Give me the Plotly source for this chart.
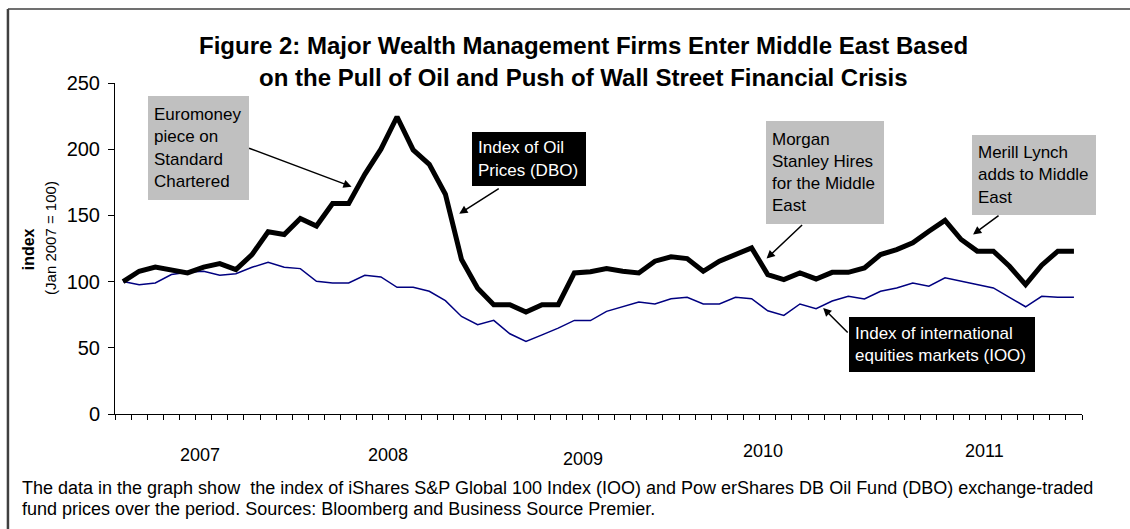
"""Figure 2 - oil index (DBO) vs international equities index (IOO), Jan 2007 = 100."""

import plotly.graph_objects as go

FONT = "Liberation Sans, Arial, sans-serif"

MONTHS = [f"{m} {y}" for y in range(2007, 2012) for m in
          ["Jan", "Feb", "Mar", "Apr", "May", "Jun", "Jul", "Aug", "Sep", "Oct", "Nov", "Dec"]]

OIL_DBO = [100, 107.8, 111, 108.6, 106.6, 111, 113.6, 109, 120.4, 137.6, 135.6, 147.7,
           142, 159, 159, 181, 200, 224.5, 199.5, 188.6, 166, 116.7, 95, 82.6,
           82.6, 77, 82.6, 82.6, 106.5, 107.5, 109.8, 107.8, 106.5, 115.4, 118.7, 117.4,
           107.8, 115.4, 120.4, 125.5, 105.3, 101.5, 106.5, 102, 107, 107, 110.3, 120.4,
           124.2, 129.3, 138, 146.2, 131.8, 123, 123, 111.6, 97.7, 112.4, 123, 123]

EQUITIES_IOO = [100, 97.7, 99, 105.3, 107, 107.8, 104.8, 106, 110.8, 114.6, 110.8, 109.8,
                100.2, 99, 99, 104.8, 103.5, 95.7, 95.7, 92.7, 85.6, 73.7, 67.4, 70.7,
                60.6, 54.8, 59.8, 64.9, 70.7, 70.6, 77.5, 81.3, 84.6, 83.1, 87.1, 88.1,
                83.1, 83.1, 88.1, 87.1, 78, 74.5, 83.1, 79.5, 85.3, 88.9, 86.9, 92.7,
                95.2, 99, 96.5, 102.8, 100.2, 97.7, 95.2, 88.1, 81, 88.9, 88.1, 88.1]

YEAR_LABELS = ["2007", "2008", "2009", "2010", "2011"]
Y_TICKS = [0, 50, 100, 150, 200, 250]

TITLE_LINES = [
    "Figure 2: Major Wealth Management Firms Enter Middle East Based",
    "on the Pull of Oil and Push of Wall Street Financial Crisis",
]
FOOTNOTE_LINES = [
    "The data in the graph show&nbsp; the index of iShares S&amp;P Global 100 Index (IOO) "
    "and Pow erShares DB Oil Fund (DBO) exchange-traded",
    "fund prices over the period. Sources: Bloomberg and Business Source Premier.",
]

# callouts: text, style, box left/top (x index, y value), box w/h px, arrow head (x, y), tail offset px
CALLOUTS = [
    ("Euromoney<br>piece on<br>Standard<br>Chartered", "grey", (1.55, 240.2), (101, 104), (14.18, 171.7), (-104, -39)),
    ("Index of Oil<br>Prices (DBO)", "black", (21.67, 212.7), (114, 54), (20.86, 151.3), (41, -26)),
    ("Morgan<br>Stanley Hires<br>for the Middle<br>East", "grey", (39.87, 221.4), (118, 103), (39.93, 117.4), (37, -35)),
    ("Merill Lynch<br>adds to Middle<br>East", "grey", (52.68, 210.6), (124, 80), (52.74, 135.6), (27, -20)),
    ("Index of international<br>equities markets (IOO)", "black", (45.03, 73.0), (186, 55), (43.44, 80.1), (26, 26)),
]

# year label placement (x index, paper y) - hand placed text boxes in the original
YEAR_POS = [(4.77, -0.124), (16.44, -0.124), (28.53, -0.136), (39.7, -0.112), (53.47, -0.112)]

x_idx = list(range(len(MONTHS)))

fig = go.Figure()

fig.add_trace(
    go.Scatter(
        x=x_idx,
        y=EQUITIES_IOO,
        customdata=MONTHS,
        name="IOO",
        mode="lines",
        line=dict(color="#000080", width=1.5),
        hovertemplate="%{customdata}: %{y:.1f}<extra>IOO</extra>",
    )
)
fig.add_trace(
    go.Scatter(
        x=x_idx,
        y=OIL_DBO,
        customdata=MONTHS,
        name="DBO",
        mode="lines",
        line=dict(color="black", width=5),
        hovertemplate="%{customdata}: %{y:.1f}<extra>DBO</extra>",
    )
)

annotations = []

for i, line in enumerate(TITLE_LINES):
    annotations.append(dict(
        text=f"<b>{line}</b>", xref="paper", yref="paper", x=0.485, y=[1.112, 1.018][i],
        xanchor="center", yanchor="middle", showarrow=False,
        font=dict(family=FONT, size=24, color="black"),
    ))

for i, line in enumerate(FOOTNOTE_LINES):
    annotations.append(dict(
        text=line, xref="paper", yref="paper", x=-0.098, y=[-0.224, -0.287][i],
        xanchor="left", yanchor="middle", showarrow=False,
        font=dict(family=FONT, size=18, color="black"),
    ))

for label, (px, py) in zip(YEAR_LABELS, YEAR_POS):
    annotations.append(dict(
        text=label, xref="x", yref="paper", x=px, y=py,
        xanchor="center", yanchor="middle", showarrow=False,
        font=dict(family=FONT, size=18, color="black"),
    ))

annotations.append(dict(
    text="<b>index</b>", xref="paper", yref="paper", x=-0.0995, y=0.4985,
    textangle=-90, showarrow=False, font=dict(family=FONT, size=16, color="black"),
))
annotations.append(dict(
    text="(Jan 2007 = 100)", xref="paper", yref="paper", x=-0.077, y=0.532,
    textangle=-90, showarrow=False, font=dict(family=FONT, size=15, color="black"),
))

for text, style, (bx, by), (bw, bh), (hx, hy), (tx, ty) in CALLOUTS:
    bg, fg = ("#c0c0c0", "black") if style == "grey" else ("black", "white")
    annotations.append(dict(
        text=text, xref="x", yref="y", x=bx, y=by, xanchor="left", yanchor="top",
        width=bw - 12, height=bh - 12, borderpad=6, borderwidth=0, bgcolor=bg,
        align="left", valign="middle", showarrow=False,
        font=dict(family=FONT, size=17, color=fg),
    ))
    annotations.append(dict(
        text="", xref="x", yref="y", x=hx, y=hy, ax=tx, ay=ty,
        showarrow=True, arrowhead=2, arrowsize=1.1, arrowwidth=1.5, arrowcolor="black",
    ))

fig.update_layout(
    width=1130,
    height=529,
    margin=dict(l=115, r=48, t=83, b=115),
    paper_bgcolor="white",
    plot_bgcolor="white",
    showlegend=False,
    annotations=annotations,
    font=dict(family=FONT, color="black"),
    shapes=[
        # outer chart frame (left and top edges visible)
        dict(type="line", xref="paper", yref="paper", x0=-0.1107, x1=-0.1107, y0=-0.5, y1=1.2236,
             line=dict(color="#404040", width=2.5)),
        dict(type="line", xref="paper", yref="paper", x0=-0.1107, x1=1.2, y0=1.2236, y1=1.2236,
             line=dict(color="#404040", width=1.5)),
    ],
)

fig.update_xaxes(
    range=[-0.5, len(MONTHS) - 0.5],
    tickvals=[i - 0.5 for i in range(len(MONTHS) + 1)],
    showticklabels=False,
    ticks="outside",
    ticklen=5,
    tickcolor="black",
    showline=True,
    linecolor="black",
    linewidth=1,
    showgrid=False,
    zeroline=False,
)
fig.update_yaxes(
    range=[0, 250],
    tickvals=Y_TICKS,
    ticks="outside",
    ticklen=6,
    tickcolor="black",
    showline=True,
    linecolor="black",
    linewidth=1,
    showgrid=False,
    zeroline=False,
    tickfont=dict(family=FONT, size=20, color="black"),
    ticklabelstandoff=4,
)

fig.write_html(
    "out.html",
    config={"displayModeBar": False},
    post_script="document.body.style.margin='0';",
)
